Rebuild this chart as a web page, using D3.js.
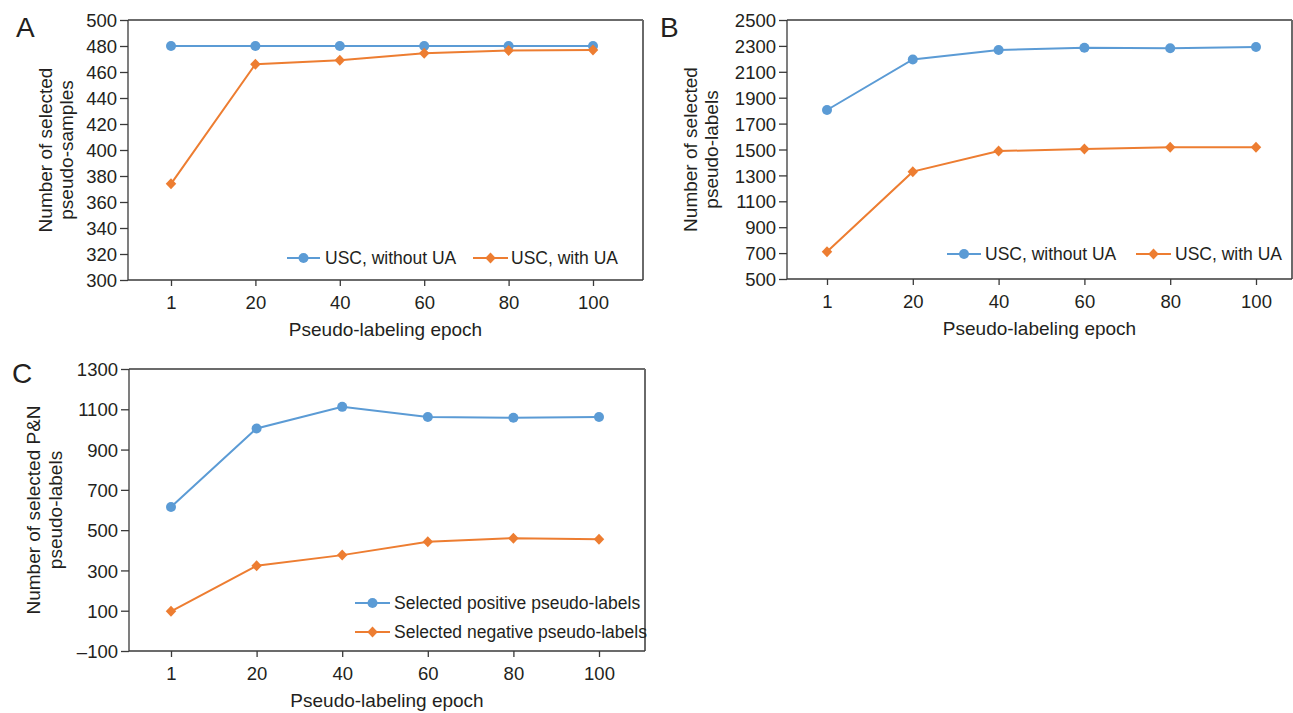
<!DOCTYPE html>
<html>
<head>
<meta charset="utf-8">
<script src="https://cdn.jsdelivr.net/npm/d3@7"></script>
<style>
  body { margin: 0; background: #fff; }
  svg { font-family: "Liberation Sans", Arial, sans-serif; }
  .tick-label { font-size: 18.5px; fill: #231f20; }
  .axis-title { font-size: 19px; fill: #231f20; }
  .legend-text { font-size: 17.5px; fill: #231f20; }
  .panel-label { font-size: 28px; fill: #231f20; }
</style>
</head>
<body>
<svg id="chart" width="1293" height="713"></svg>
<script>
// values
const epochs = ["1", "20", "40", "60", "80", "100"];

const aWithoutUA = [480, 480, 480, 480, 480, 480];
const aWithUA = [374, 466, 469, 474.5, 476.5, 477];

const bWithoutUA = [1805, 2195, 2268, 2286, 2282, 2292];
const bWithUA = [711, 1329, 1488, 1504, 1518, 1518];

const cPositive = [615, 1005, 1112, 1062, 1058, 1062];
const cNegative = [97, 323, 376, 442, 460, 455];

const aTicks = d3.range(300, 501, 20);
const bTicks = d3.range(500, 2501, 200);
const cTicks = d3.range(-100, 1301, 200);

const legendA = ["USC, without UA", "USC, with UA"];
const legendC = ["Selected positive pseudo-labels", "Selected negative pseudo-labels"];

const blue = '#5b9bd5';
const orange = '#ed7d31';

const svg = d3.select('#chart');

// layout of each panel (pixels)
const panels = [
    {
        label: 'A', labelX: 16, labelY: 37,
        left: 128, right: 643, top: 20, bottom: 280,
        xFirst: 171, xLast: 593,
        domain: [300, 500], ticks: aTicks,
        series: [aWithoutUA, aWithUA],
        yTitle: ['Number of selected', 'pseudo-samples'], yTitleX: [52, 73],
        legend: legendA,
        legendItems: [
            {x1: 287, x2: 320, y: 258, tx: 325},
            {x1: 473, x2: 508, y: 258, tx: 511}
        ]
    },
    {
        label: 'B', labelX: 660, labelY: 37,
        left: 787, right: 1292, top: 20, bottom: 279,
        xFirst: 827, xLast: 1256,
        domain: [500, 2500], ticks: bTicks,
        series: [bWithoutUA, bWithUA],
        yTitle: ['Number of selected', 'pseudo-labels'], yTitleX: [697, 718],
        legend: legendA,
        legendItems: [
            {x1: 947, x2: 981, y: 254, tx: 985},
            {x1: 1136, x2: 1171, y: 254, tx: 1175}
        ]
    },
    {
        label: 'C', labelX: 12, labelY: 383,
        left: 129, right: 645, top: 369, bottom: 651,
        xFirst: 171, xLast: 599,
        domain: [-100, 1300], ticks: cTicks,
        series: [cPositive, cNegative],
        yTitle: ['Number of selected P&N', 'pseudo-labels'], yTitleX: [40, 62],
        legend: legendC,
        legendItems: [
            {x1: 355, x2: 390, y: 603, tx: 394},
            {x1: 355, x2: 390, y: 632, tx: 394}
        ]
    }
];

const diamond = d3.symbol().type(d3.symbolDiamond2).size(70);

function drawMarker(g, kind, x, y, color) {
    if (kind === 0) {
        g.append('circle')
            .attr('cx', x).attr('cy', y).attr('r', 5)
            .attr('fill', color);
    } else {
        g.append('path')
            .attr('d', diamond())
            .attr('transform', `translate(${x},${y}) scale(1,1.05)`)
            .attr('fill', color);
    }
}

panels.forEach(p => {
    const g = svg.append('g');

    const x = d3.scalePoint()
        .domain(epochs)
        .range([p.xFirst, p.xLast]);

    const y = d3.scaleLinear()
        .domain(p.domain)
        .range([p.bottom, p.top]);

    // frame: top and right edges
    g.append('line')
        .attr('x1', p.left).attr('x2', p.right)
        .attr('y1', p.top).attr('y2', p.top)
        .attr('stroke', '#3a3a3a').attr('stroke-width', 1.3);
    g.append('line')
        .attr('x1', p.right).attr('x2', p.right)
        .attr('y1', p.top).attr('y2', p.bottom)
        .attr('stroke', '#6a6a6a').attr('stroke-width', 2);

    // y axis
    const yAxis = g.append('g')
        .attr('transform', `translate(${p.left},0)`)
        .call(d3.axisLeft(y).tickValues(p.ticks).tickSize(8).tickPadding(3)
            .tickFormat(d => d < 0 ? '\u2013' + Math.abs(d) : d));
    yAxis.select('.domain').attr('stroke', '#3a3a3a').attr('stroke-width', 1.3)
        .attr('d', `M0,${p.top}V${p.bottom}`);
    yAxis.selectAll('.tick line').attr('stroke', '#3a3a3a').attr('stroke-width', 1.3);
    yAxis.selectAll('.tick text')
        .attr('class', 'tick-label')
        .attr('dy', '0.36em');
    yAxis.attr('font-family', null).attr('font-size', null);

    // x axis
    const xAxis = g.append('g')
        .attr('transform', `translate(0,${p.bottom})`)
        .call(d3.axisBottom(x).tickSize(6).tickPadding(10));
    xAxis.select('.domain').attr('stroke', '#3a3a3a').attr('stroke-width', 1.3)
        .attr('d', `M${p.left},0H${p.right}`);
    xAxis.selectAll('.tick line').attr('stroke', '#3a3a3a').attr('stroke-width', 1.3);
    xAxis.selectAll('.tick text').attr('class', 'tick-label').attr('dy', '0.71em');
    xAxis.attr('font-family', null).attr('font-size', null);

    // axis titles
    g.append('text')
        .attr('class', 'axis-title')
        .attr('x', (p.left + p.right) / 2)
        .attr('y', p.bottom + 56)
        .attr('text-anchor', 'middle')
        .text('Pseudo-labeling epoch');

    const midY = (p.top + p.bottom) / 2;
    p.yTitle.forEach((t, i) => {
        g.append('text')
            .attr('class', 'axis-title')
            .attr('transform', `translate(${p.yTitleX[i]},${midY}) rotate(-90)`)
            .attr('text-anchor', 'middle')
            .text(t);
    });

    // panel letter
    g.append('text')
        .attr('class', 'panel-label')
        .attr('x', p.labelX).attr('y', p.labelY)
        .text(p.label);

    // series lines + markers
    const colors = [blue, orange];
    p.series.forEach((vals, si) => {
        const line = d3.line()
            .x((d, i) => x(epochs[i]))
            .y(d => y(d));
        g.append('path')
            .datum(vals)
            .attr('fill', 'none')
            .attr('stroke', colors[si])
            .attr('stroke-width', 2)
            .attr('d', line);
        vals.forEach((v, i) => drawMarker(g, si, x(epochs[i]), y(v), colors[si]));
    });

    // legend
    p.legendItems.forEach((it, si) => {
        g.append('line')
            .attr('x1', it.x1).attr('x2', it.x2)
            .attr('y1', it.y).attr('y2', it.y)
            .attr('stroke', colors[si]).attr('stroke-width', 2);
        drawMarker(g, si, (it.x1 + it.x2) / 2, it.y, colors[si]);
        g.append('text')
            .attr('class', 'legend-text')
            .attr('x', it.tx).attr('y', it.y)
            .attr('dy', '0.36em')
            .text(p.legend[si]);
    });
});
</script>
</body>
</html>
